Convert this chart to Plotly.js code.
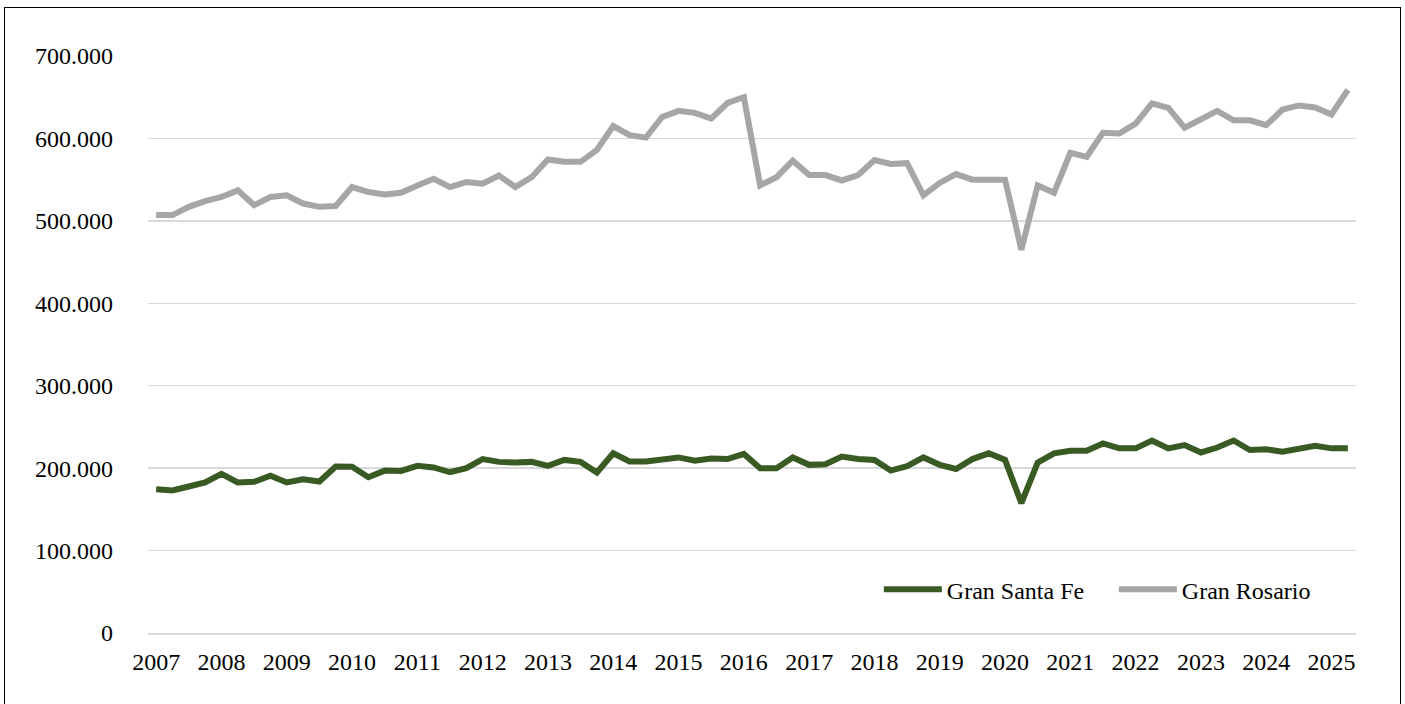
<!DOCTYPE html>
<html>
<head>
<meta charset="utf-8">
<script src="https://cdn.plot.ly/plotly-3.0.1.min.js"></script>
<style>
  html, body { margin: 0; padding: 0; background: #fff; }
  #chart { width: 1405px; height: 704px; }
  #frame { position: absolute; left: 4px; top: 7px; width: 1395px; height: 705px; border: 1.5px solid #000; pointer-events: none; }
</style>
</head>
<body>
<div id="chart"></div>
<div id="frame"></div>
<script>
const years = ["2007","2008","2009","2010","2011","2012","2013","2014","2015","2016","2017","2018","2019","2020","2021","2022","2023","2024","2025"];
const quarters = ["T1","T2","T3","T4"];
const categories = [];
years.forEach(y => quarters.forEach(q => categories.push(y + " " + q)));
categories.length = 74; // 2007 T1 .. 2025 T2

const granSantaFe = [
  174500, 172900, 177700, 182600, 193000, 182600, 183400, 190700, 182600, 186600,
  183800, 202000, 201600, 189000, 197000, 196600, 202800, 200800, 195000, 200000,
  211000, 207600, 206800, 207600, 202800, 210000, 207600, 194700, 218000, 208000,
  208000, 210000, 213000, 209000, 211600, 211000, 217300, 200000, 200000, 212900,
  204000, 204800, 214000, 211000, 210000, 197000, 202400, 213000, 204000, 199000,
  211000, 218000, 210000, 157600, 206800, 218000, 221000, 221000, 230000, 224000,
  224000, 233500, 224000, 228000, 219000, 225000, 233500, 222000, 222800, 220000,
  224000, 227000, 224000, 224000
];
const granRosario = [
  507000, 507000, 517000, 524000, 529000, 537000, 519000, 529000, 531000, 521000,
  517000, 518000, 541000, 535000, 532000, 534000, 543000, 551000, 541000, 547000,
  545000, 555000, 541000, 553000, 574500, 571600, 571600, 586000, 615000, 604000,
  601000, 626000, 633500, 631000, 624000, 643000, 650000, 543000, 553000, 573000,
  555500, 555500, 549000, 555500, 573700, 569000, 570000, 531000, 546000, 556700,
  550000, 549500, 550000, 465000, 543000, 534000, 582500, 577700, 606800, 606000,
  618000, 642400, 637000, 613000, 623000, 633500, 622000, 622000, 616000, 635000,
  640000, 637600, 629000, 659000
];
const tickVals = categories.filter(c => c.endsWith("T1"));
const tickText = years;

const FONT = "Liberation Serif, Times New Roman, serif";

const traces = [
  { x: categories, y: granSantaFe, type: "scatter", mode: "lines", name: "Gran Santa Fe",
    line: { color: "#3A5A24", width: 6 } },
  { x: categories, y: granRosario, type: "scatter", mode: "lines", name: "Gran Rosario",
    line: { color: "#A6A6A6", width: 6 } }
];

const layout = {
  width: 1405, height: 704,
  margin: { l: 148, r: 49, t: 56, b: 71 },
  paper_bgcolor: "#fff", plot_bgcolor: "#fff",
  separators: ",.",
  font: { family: FONT, size: 24, color: "#000" },
  showlegend: true,
  legend: { orientation: "h", x: 0.605, y: 0.075, xanchor: "left", yanchor: "middle",
            font: { family: FONT, size: 24, color: "#000" }, itemwidth: 58,
            entrywidth: 162, bgcolor: "rgba(0,0,0,0)" },
  xaxis: { type: "category", range: [-0.5, 73.5], tickmode: "array",
           tickvals: tickVals, ticktext: tickText, showgrid: false, ticks: "",
           showline: true, linecolor: "#D9D9D9", linewidth: 1.5, zeroline: false,
           tickangle: 0, ticklabelstandoff: 7, tickfont: { family: FONT, size: 24 } },
  yaxis: { range: [0, 700000], dtick: 100000, tickformat: ",.0f",
           showgrid: true, gridcolor: "#D9D9D9", gridwidth: 1.5, zeroline: false,
           ticks: "", showline: false, ticklabelstandoff: 34,
           tickfont: { family: FONT, size: 24 } },
  hovermode: false
};

Plotly.newPlot("chart", traces, layout, { displayModeBar: false, staticPlot: true });
</script>
</body>
</html>
